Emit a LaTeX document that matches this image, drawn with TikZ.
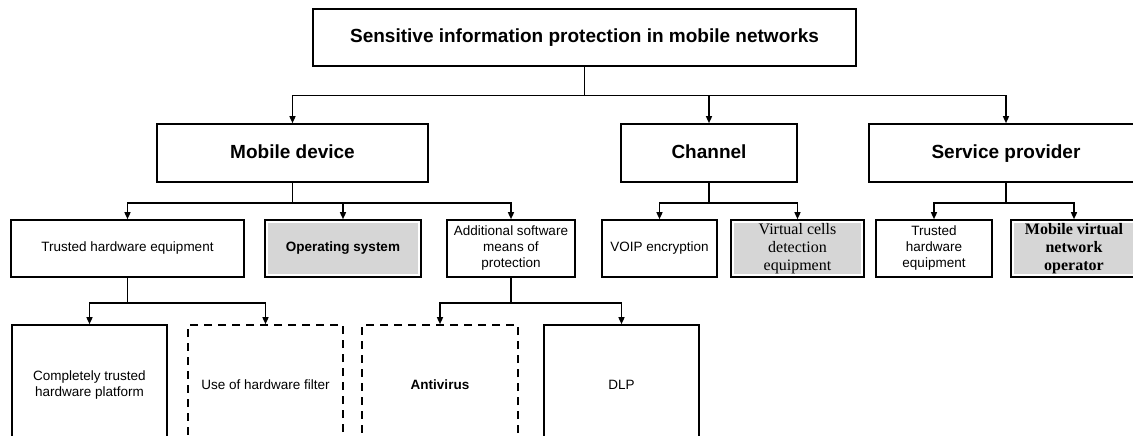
\documentclass[tikz,border=0pt]{standalone}
\usepackage{fontspec}
\setmainfont{Liberation Sans}
\newfontfamily\timesfont{Liberation Serif}
\usetikzlibrary{arrows.meta}
\definecolor{boxgray}{RGB}{214,214,214}

\begin{document}
\begin{tikzpicture}[x=1pt, y=-1pt, line width=1.6pt,
	box/.style={draw, align=center, inner sep=0pt},
	graybox/.style={box, path picture={\fill[boxgray] ([xshift=3pt,yshift=-3pt]path picture bounding box.north west) rectangle ([xshift=-3pt,yshift=3pt]path picture bounding box.south east);}},
	dashbox/.style={box, dash pattern=on 8pt off 6pt},
	big/.style={font=\fontsize{19}{22}\selectfont\bfseries, text height=14pt, text depth=4pt},
	small/.style={font=\fontsize{13.5}{16}\selectfont},
	smallbold/.style={font=\fontsize{13.5}{16}\selectfont\bfseries},
	serif/.style={font=\fontsize{16}{18}\selectfont\timesfont},
	serifbold/.style={font=\fontsize{16}{18}\selectfont\timesfont\bfseries},
	conn/.style={-{Triangle[length=7pt,width=6pt]}, line width=1.4pt}]
	\useasboundingbox (0,0) rectangle (1133,436);
	\clip (0,0) rectangle (1133,436);

	% root
	\node[box, big, minimum width=543, minimum height=57] (root) at (584.5,37.5) {Sensitive information protection in mobile networks};

	% first level
	\node[box, big, minimum width=271, minimum height=58] (mobile) at (292.5,153) {Mobile device};
	\node[box, big, minimum width=176, minimum height=58] (channel) at (709,153) {Channel};
	\node[box, big, minimum width=274, minimum height=58] (service) at (1006,153) {Service provider};

	% second level
	\node[box, small, minimum width=233, minimum height=57] (thw) at (127.5,248.5) {Trusted hardware equipment};
	\node[graybox, smallbold, minimum width=156, minimum height=57] (os) at (343,248.5) {Operating system};
	\node[box, small, minimum width=128, minimum height=57] (addsw) at (511,248.5) {Additional software\\means of\\protection};
	\node[box, small, minimum width=115, minimum height=57] (voip) at (659.5,248.5) {VOIP encryption};
	\node[graybox, serif, minimum width=133, minimum height=57] (vcells) at (797.5,248.5) {Virtual cells\\detection\\equipment};
	\node[box, small, minimum width=116, minimum height=57] (sphw) at (934,248.5) {Trusted\\hardware\\equipment};
	\node[graybox, serifbold, minimum width=126, minimum height=57] (mvno) at (1074,248.5) {Mobile virtual\\network\\operator};

	% third level
	\node[box, small, minimum width=155, minimum height=120] (complete) at (89.5,385) {Completely trusted\\hardware platform};
	\node[dashbox, small, minimum width=155, minimum height=120] (hwfilter) at (265.5,385) {Use of hardware filter};
	\node[dashbox, smallbold, minimum width=156, minimum height=120] (antivirus) at (440,385) {Antivirus};
	\node[box, small, minimum width=155, minimum height=120] (dlp) at (621.5,385) {DLP};

	% connectors
	\foreach \c in {mobile,channel,service}
		\draw[conn] (root.south) -- ++(0,29) -| (\c.north);
	\foreach \c in {thw,os,addsw}
		\draw[conn] (mobile.south) -- ++(0,20) -| (\c.north);
	\foreach \c in {voip,vcells}
		\draw[conn] (channel.south) -- ++(0,20) -| (\c.north);
	\foreach \c in {sphw,mvno}
		\draw[conn] (service.south) -- ++(0,20) -| (\c.north);
	\foreach \c in {complete,hwfilter}
		\draw[conn] (thw.south) -- ++(0,25) -| (\c.north);
	\foreach \c in {antivirus,dlp}
		\draw[conn] (addsw.south) -- ++(0,25) -| (\c.north);
\end{tikzpicture}
\end{document}
